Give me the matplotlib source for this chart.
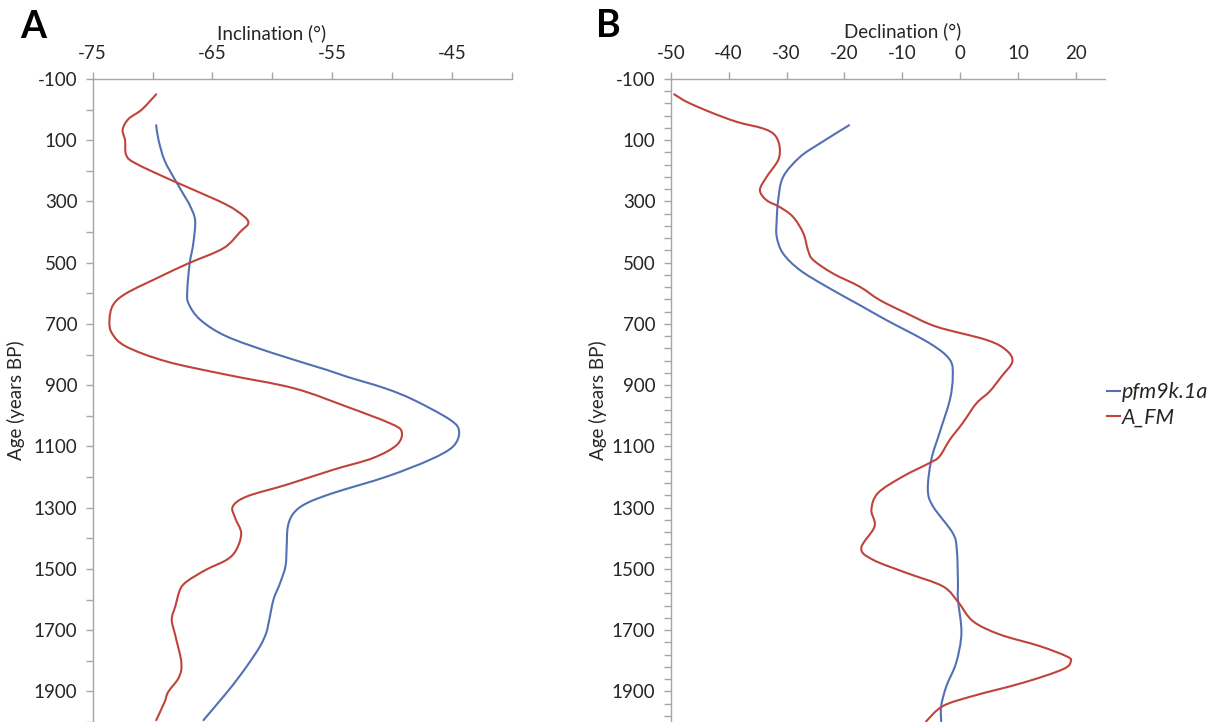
import matplotlib
matplotlib.use('Agg')
import matplotlib.pyplot as plt
from matplotlib.path import Path
from matplotlib.patches import PathPatch
from matplotlib.lines import Line2D

plt.rcParams['font.family'] = ['Lato', 'DejaVu Sans']
plt.rcParams['axes.unicode_minus'] = False

# panel A - inclination
incl_fm_age = [-50, 0, 30, 65, 100, 149, 176, 231, 297, 330, 367, 400, 453, 502, 546, 600, 638,
               687, 730, 774, 823, 866, 910, 970, 1024, 1051, 1095, 1138, 1176, 1225, 1263,
               1296, 1334, 1383, 1437, 1470, 1502, 1540, 1567, 1622, 1665, 1718, 1805, 1854,
               1902, 1935, 1994]
incl_fm = [-69.7, -70.9, -72.0, -72.5, -72.3, -72.2, -71.4, -68.4, -64.55, -63.0, -62.0, -62.7,
           -64.1, -67.0, -69.4, -72.2, -73.3, -73.6, -73.4, -72.2, -68.8, -63.8, -58.2, -53.8,
           -50.2, -49.2, -49.6, -51.6, -54.9, -58.8, -62.1, -63.3, -63.1, -62.6, -63.0, -63.8,
           -65.5, -67.1, -67.7, -68.1, -68.4, -68.1, -67.6, -67.8, -68.7, -69.0, -69.7]

incl_pfm_age = [51, 100, 166, 231, 291, 312, 361, 437, 502, 589, 633, 687, 741, 796, 850, 872,
                910, 948, 1013, 1051, 1100, 1143, 1198, 1252, 1285, 1317, 1361, 1426, 1491,
                1546, 1600, 1665, 1708, 1751, 1805, 1859, 1913, 1994]
incl_pfm = [-69.7, -69.5, -69.0, -68.1, -67.2, -66.9, -66.45, -66.6, -66.9, -67.1, -67.0, -66.0,
            -63.8, -59.9, -55.45, -53.8, -50.6, -48.2, -45.15, -44.4, -44.9, -46.8, -50.4,
            -54.9, -57.1, -58.2, -58.7, -58.8, -58.9, -59.35, -59.9, -60.25, -60.5, -61.0,
            -61.9, -62.9, -64.0, -65.75]

# panel B - declination
decl_fm_age = [-50, -25, 8, 40, 62, 84, 122, 165, 220, 263, 296, 318, 350, 404, 459, 491, 535,
               578, 622, 665, 709, 752, 785, 823, 872, 921, 959, 1024, 1078, 1133, 1154, 1198,
               1252, 1307, 1361, 1432, 1470, 1513, 1557, 1610, 1671, 1714, 1752, 1785, 1801,
               1828, 1872, 1915, 1948, 1998]
decl_fm = [-49.4, -47.2, -43.2, -38.6, -34.0, -32.0, -31.2, -31.45, -33.45, -34.6, -33.45, -31.2,
           -28.9, -27.1, -26.3, -25.4, -22.0, -17.4, -13.9, -9.3, -4.1, 4.5, 7.9, 9.0, 7.1, 5.05,
           2.8, 0.4, -1.8, -3.6, -5.3, -9.9, -14.2, -15.35, -14.8, -17.1, -15.1, -9.3, -3.0,
           -0.3, 2.2, 6.8, 13.7, 18.3, 19.1, 17.7, 10.8, 2.2, -3.0, -5.9]

decl_pfm_age = [51, 111, 155, 220, 296, 361, 415, 470, 524, 578, 638, 687, 763, 817, 872, 948,
                1057, 1143, 1241, 1296, 1383, 1437, 1546, 1600, 1709, 1806, 1883, 1948, 1998]
decl_pfm = [-19.2, -24.3, -27.7, -30.6, -31.45, -31.7, -31.7, -30.6, -27.7, -23.1, -17.4, -12.8,
            -5.3, -1.8, -1.3, -1.8, -3.6, -5.0, -5.6, -4.7, -1.3, -0.6, -0.4, -0.4, 0.2, -0.7,
            -2.4, -3.3, -3.3]

age_labels = list(range(-100, 2000, 200))
incl_ticks = list(range(-75, -39, 5))
incl_labels = ['-75', '', '-65', '', '-55', '', '-45', '']
decl_ticks = list(range(-50, 21, 10))

blue = '#5470b4'
red = '#c0433a'
grey = '#a6a6a6'
txt = '#262626'


def smooth_line(ax, xs, ys, color):
    # excel style smoothed line: catmull-rom segments drawn as bezier curves
    pts = list(zip(xs, ys))
    n = len(pts)
    verts = [pts[0]]
    codes = [Path.MOVETO]
    for i in range(n - 1):
        p0 = pts[i - 1] if i > 0 else pts[i]
        p1 = pts[i]
        p2 = pts[i + 1]
        p3 = pts[i + 2] if i + 2 < n else pts[i + 1]
        c1 = (p1[0] + (p2[0] - p0[0]) / 6, p1[1] + (p2[1] - p0[1]) / 6)
        c2 = (p2[0] - (p3[0] - p1[0]) / 6, p2[1] - (p3[1] - p1[1]) / 6)
        verts += [c1, c2, p2]
        codes += [Path.CURVE4] * 3
    ax.add_patch(PathPatch(Path(verts, codes), fill=False, edgecolor=color, lw=1.5,
                           capstyle='round', joinstyle='round'))


fig = plt.figure(figsize=(12.09, 7.22), dpi=100)
axA = fig.add_axes([0.0767, 0.0, 0.3466, 0.8906])
axB = fig.add_axes([0.5548, 0.0, 0.3592, 0.8906])


def style(ax, minor_step):
    ax.set_ylim(2000, -100)
    ax.xaxis.tick_top()
    for s in ['bottom', 'right']:
        ax.spines[s].set_visible(False)
    for s in ['top', 'left']:
        ax.spines[s].set_color(grey)
        ax.spines[s].set_linewidth(1.0)
    ax.set_yticks(age_labels)
    ax.set_yticklabels([str(a) for a in age_labels])
    ax.set_yticks(list(range(-100, 2001, minor_step)), minor=True)
    ax.tick_params(axis='both', which='both', colors=grey, labelcolor=txt,
                   labelsize=13.5, length=5, width=1.0, direction='out')
    ax.tick_params(axis='y', pad=6)
    ax.tick_params(axis='x', pad=7)


smooth_line(axA, incl_pfm, incl_pfm_age, blue)
smooth_line(axA, incl_fm, incl_fm_age, red)
axA.set_xlim(-75, -40)
axA.set_xticks(incl_ticks)
axA.set_xticklabels(incl_labels)
style(axA, 100)

smooth_line(axB, decl_pfm, decl_pfm_age, blue)
smooth_line(axB, decl_fm, decl_fm_age, red)
axB.set_xlim(-50, 25)
axB.set_xticks(decl_ticks)
style(axB, 40)

fig.text(272 / 1209, 1 - 33 / 722, 'Inclination (°)', ha='center', va='center',
         fontsize=13.5, color=txt)
fig.text(903 / 1209, 1 - 31 / 722, 'Declination (°)', ha='center', va='center',
         fontsize=13.5, color=txt)
fig.text(16 / 1209, 1 - 400 / 722, 'Age (years BP)', rotation=90, ha='center', va='center',
         fontsize=13.5, color=txt)
fig.text(598 / 1209, 1 - 400 / 722, 'Age (years BP)', rotation=90, ha='center', va='center',
         fontsize=13.5, color=txt)
fig.text(20 / 1209, 1 - 27 / 722, 'A', ha='left', va='center', fontsize=27,
         fontweight='bold', color='black')
fig.text(596 / 1209, 1 - 26 / 722, 'B', ha='left', va='center', fontsize=27,
         fontweight='bold', color='black')

handles = [Line2D([], [], color=blue, lw=1.5), Line2D([], [], color=red, lw=1.5)]
leg = axB.legend(handles, ['pfm9k.1a', 'A_FM'], loc='center left',
                 bbox_to_anchor=(1096 / 1209, 1 - 405 / 722),
                 bbox_transform=fig.transFigure, frameon=False, handlelength=0.6,
                 handletextpad=0.1, labelspacing=0.25, borderpad=0,
                 prop={'style': 'italic', 'size': 15.5})
for t in leg.get_texts():
    t.set_color(txt)

fig.savefig('out.png', dpi=100)
